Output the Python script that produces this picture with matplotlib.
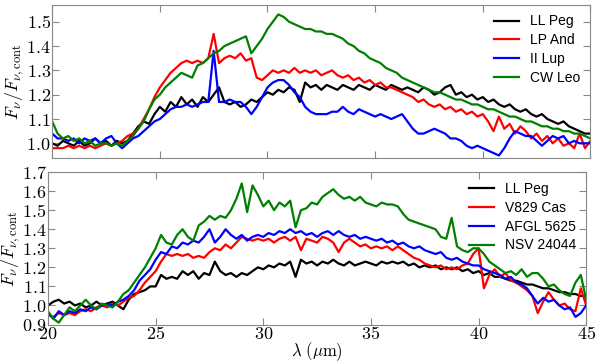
import numpy as np
import matplotlib
matplotlib.use('Agg')
import matplotlib.pyplot as plt
from matplotlib.ticker import FuncFormatter, MultipleLocator

plt.rcParams['mathtext.fontset'] = 'cm'
plt.rcParams['font.family'] = ['Liberation Sans', 'DejaVu Sans']

# wavelength grid (micron), 0.25 step
wavelength = np.arange(20.0, 45.001, 0.25)

# ---- top panel ----
top_names = ['LL Peg', 'LP And', 'II Lup', 'CW Leo']

ll_peg_top = [
    1.00, 0.99, 1.01, 1.00, 0.99, 1.01, 0.99, 1.00, 1.02, 1.00, 1.01, 0.99,
    1.01, 1.00, 1.01, 1.04, 1.07, 1.09, 1.08, 1.12, 1.15, 1.13, 1.17, 1.15,
    1.19, 1.16, 1.18, 1.15, 1.19, 1.17, 1.20, 1.23, 1.17, 1.16, 1.17, 1.15,
    1.16, 1.18, 1.17, 1.19, 1.21, 1.20, 1.22, 1.21, 1.23, 1.22, 1.17, 1.25,
    1.23, 1.24, 1.22, 1.24, 1.23, 1.22, 1.24, 1.23, 1.22, 1.24, 1.23, 1.22,
    1.24, 1.23, 1.22, 1.24, 1.23, 1.22, 1.23, 1.22, 1.21, 1.23, 1.22, 1.20,
    1.21, 1.23, 1.24, 1.20, 1.21, 1.19, 1.20, 1.18, 1.19, 1.17, 1.18, 1.16,
    1.15, 1.16, 1.14, 1.13, 1.14, 1.12, 1.11, 1.12, 1.10, 1.09, 1.08, 1.09,
    1.07, 1.06, 1.05, 1.04, 1.04]

lp_and = [
    0.98, 0.98, 0.98, 0.99, 0.98, 0.99, 0.98, 0.99, 0.98, 0.99, 1.00, 0.99,
    1.00, 1.01, 1.03, 1.04, 1.06, 1.10, 1.14, 1.19, 1.23, 1.26, 1.29, 1.31,
    1.33, 1.34, 1.33, 1.34, 1.33, 1.35, 1.45, 1.33, 1.35, 1.36, 1.35, 1.37,
    1.34, 1.35, 1.27, 1.26, 1.28, 1.30, 1.29, 1.30, 1.29, 1.31, 1.29, 1.30,
    1.29, 1.30, 1.28, 1.29, 1.30, 1.28, 1.27, 1.28, 1.26, 1.27, 1.25, 1.26,
    1.24, 1.25, 1.23, 1.23, 1.22, 1.21, 1.20, 1.19, 1.17, 1.18, 1.16, 1.15,
    1.16, 1.14, 1.15, 1.13, 1.14, 1.12, 1.13, 1.11, 1.12, 1.09, 1.05, 1.11,
    1.06, 1.08, 1.04, 1.07, 1.05, 1.02, 1.04, 1.01, 1.03, 1.00, 1.02, 0.99,
    1.00, 0.98, 1.04, 0.98, 1.01]

ii_lup = [
    1.04, 1.02, 1.02, 1.01, 1.02, 1.00, 1.02, 1.01, 1.02, 1.00, 1.02, 1.03,
    1.00, 0.98, 1.00, 1.02, 1.03, 1.05, 1.07, 1.09, 1.10, 1.12, 1.14, 1.15,
    1.15, 1.16, 1.15, 1.16, 1.17, 1.17, 1.38, 1.17, 1.17, 1.18, 1.17, 1.17,
    1.15, 1.12, 1.15, 1.19, 1.23, 1.25, 1.26, 1.26, 1.24, 1.21, 1.19, 1.15,
    1.13, 1.12, 1.12, 1.12, 1.13, 1.13, 1.15, 1.13, 1.12, 1.14, 1.13, 1.12,
    1.11, 1.12, 1.11, 1.10, 1.11, 1.12, 1.09, 1.06, 1.04, 1.04, 1.05, 1.06,
    1.05, 1.04, 1.02, 1.02, 1.01, 0.99, 0.98, 0.99, 0.98, 0.97, 0.96, 0.95,
    0.98, 1.02, 1.05, 1.04, 1.03, 1.03, 1.01, 0.99, 1.01, 1.03, 1.02, 1.03,
    1.00, 1.01, 1.00, 1.00, 1.00]

cw_leo = [
    1.09, 1.04, 1.02, 1.03, 1.01, 1.02, 1.00, 1.01, 0.99, 1.00, 1.00, 0.99,
    1.00, 0.99, 1.01, 1.03, 1.06, 1.09, 1.14, 1.18, 1.20, 1.23, 1.25, 1.27,
    1.29, 1.28, 1.27, 1.32, 1.33, 1.35, 1.37, 1.38, 1.40, 1.41, 1.42, 1.43,
    1.44, 1.37, 1.40, 1.43, 1.47, 1.50, 1.53, 1.52, 1.50, 1.49, 1.48, 1.47,
    1.47, 1.46, 1.46, 1.45, 1.45, 1.44, 1.43, 1.41, 1.40, 1.38, 1.37, 1.35,
    1.34, 1.33, 1.31, 1.30, 1.29, 1.27, 1.26, 1.25, 1.24, 1.23, 1.22, 1.21,
    1.21, 1.20, 1.19, 1.18, 1.18, 1.17, 1.16, 1.16, 1.15, 1.14, 1.14, 1.13,
    1.12, 1.11, 1.11, 1.10, 1.09, 1.09, 1.08, 1.07, 1.07, 1.06, 1.06, 1.05,
    1.05, 1.04, 1.04, 1.03, 1.02]

# ---- bottom panel ----
bottom_names = ['LL Peg', 'V829 Cas', 'AFGL 5625', 'NSV 24044']

ll_peg_bot = [
    1.00, 1.02, 1.03, 1.01, 1.02, 1.00, 1.01, 0.99, 1.00, 1.02, 1.00, 1.01,
    1.02, 1.00, 0.98, 1.03, 1.06, 1.07, 1.08, 1.10, 1.10, 1.16, 1.14, 1.15,
    1.14, 1.18, 1.16, 1.18, 1.14, 1.17, 1.16, 1.23, 1.18, 1.16, 1.17, 1.15,
    1.17, 1.16, 1.18, 1.20, 1.19, 1.21, 1.20, 1.22, 1.21, 1.23, 1.15, 1.24,
    1.22, 1.23, 1.21, 1.23, 1.22, 1.24, 1.22, 1.21, 1.23, 1.21, 1.22, 1.23,
    1.22, 1.21, 1.23, 1.22, 1.23, 1.22, 1.23, 1.21, 1.22, 1.20, 1.21, 1.20,
    1.21, 1.19, 1.20, 1.19, 1.20, 1.18, 1.19, 1.17, 1.18, 1.16, 1.17, 1.15,
    1.15, 1.14, 1.13, 1.13, 1.12, 1.11, 1.11, 1.10, 1.09, 1.09, 1.08, 1.07,
    1.07, 1.06, 1.06, 1.05, 1.05]

v829_cas = [
    0.95, 0.94, 0.96, 0.95, 0.96, 0.95, 0.97, 0.98, 0.97, 0.99, 1.00, 0.99,
    1.01, 1.00, 1.02, 1.04, 1.05, 1.08, 1.12, 1.15, 1.18, 1.23, 1.27, 1.26,
    1.27, 1.26, 1.27, 1.25, 1.26, 1.25, 1.28, 1.30, 1.29, 1.32, 1.30, 1.33,
    1.36, 1.35, 1.34, 1.35, 1.34, 1.35, 1.33, 1.35, 1.36, 1.34, 1.36, 1.29,
    1.35, 1.34, 1.33, 1.36, 1.35, 1.33, 1.28, 1.33, 1.35, 1.33, 1.31, 1.32,
    1.30, 1.31, 1.30, 1.31, 1.29, 1.31, 1.29, 1.27, 1.25, 1.24, 1.22, 1.21,
    1.20, 1.21, 1.19, 1.20, 1.19, 1.21, 1.22, 1.27, 1.30, 1.09, 1.16, 1.19,
    1.15, 1.17, 1.13, 1.12, 1.10, 1.08, 1.05, 0.96, 1.02, 1.07, 1.03, 1.00,
    1.01, 0.98, 0.97, 1.09, 1.00]

afgl_5625 = [
    0.96, 0.93, 0.97, 0.95, 0.97, 0.96, 0.98, 0.97, 0.99, 0.98, 1.00, 1.01,
    1.00, 1.02, 1.03, 1.05, 1.08, 1.13, 1.16, 1.19, 1.24, 1.28, 1.27, 1.31,
    1.30, 1.33, 1.32, 1.34, 1.33, 1.36, 1.40, 1.33, 1.36, 1.40, 1.37, 1.35,
    1.37, 1.34, 1.36, 1.37, 1.36, 1.38, 1.37, 1.39, 1.38, 1.40, 1.38, 1.39,
    1.37, 1.38, 1.36, 1.38, 1.39, 1.37, 1.39, 1.37, 1.36, 1.37, 1.35, 1.36,
    1.35, 1.34, 1.35, 1.33, 1.34, 1.32, 1.33, 1.31, 1.30, 1.31, 1.29, 1.28,
    1.27, 1.28, 1.25, 1.24, 1.25, 1.23, 1.22, 1.21, 1.21, 1.19, 1.18, 1.17,
    1.16, 1.14, 1.15, 1.12, 1.11, 1.09, 1.05, 1.01, 1.04, 1.02, 1.03, 1.00,
    0.98, 0.99, 0.94, 0.96, 1.00]

nsv_24044 = [
    0.97, 0.93, 0.91, 0.95, 0.99, 0.97, 1.00, 1.03, 1.00, 0.98, 1.01, 1.00,
    0.99, 1.02, 1.06, 1.08, 1.12, 1.16, 1.20, 1.25, 1.30, 1.37, 1.33, 1.32,
    1.37, 1.40, 1.36, 1.34, 1.42, 1.44, 1.47, 1.45, 1.47, 1.46, 1.50, 1.56,
    1.64, 1.49, 1.63, 1.58, 1.52, 1.55, 1.50, 1.54, 1.52, 1.55, 1.41, 1.50,
    1.51, 1.54, 1.53, 1.57, 1.59, 1.61, 1.58, 1.56, 1.57, 1.55, 1.57, 1.54,
    1.53, 1.52, 1.54, 1.53, 1.53, 1.52, 1.48, 1.45, 1.44, 1.43, 1.42, 1.41,
    1.40, 1.36, 1.35, 1.46, 1.31, 1.29, 1.28, 1.30, 1.30, 1.27, 1.23, 1.21,
    1.19, 1.17, 1.18, 1.16, 1.19, 1.15, 1.17, 1.17, 1.14, 1.10, 1.11, 1.08,
    1.06, 1.05, 1.12, 1.16, 1.03]

line_colors = ['black', 'red', 'blue', 'green']

fig = plt.figure(figsize=(6.0, 3.63), dpi=100)
ax1 = fig.add_axes([0.087, 0.565, 0.897, 0.422])
ax2 = fig.add_axes([0.080, 0.106, 0.897, 0.420])

tick_fmt = FuncFormatter(lambda v, pos: r'$%.1f$' % v)
xtick_fmt = FuncFormatter(lambda v, pos: r'$%d$' % v)

# top panel
for series, name, c in zip([ll_peg_top, lp_and, ii_lup, cw_leo], top_names, line_colors):
    ax1.plot(wavelength, series, color=c, lw=1.6, label=name)
ax1.set_ylim(0.94, 1.57)
ax1.yaxis.set_major_locator(MultipleLocator(0.1))
ax1.set_xticklabels([])

# bottom panel
for series, name, c in zip([ll_peg_bot, v829_cas, afgl_5625, nsv_24044], bottom_names, line_colors):
    ax2.plot(wavelength, series, color=c, lw=1.6, label=name)
ax2.set_ylim(0.9, 1.7)
ax2.yaxis.set_major_locator(MultipleLocator(0.1))
ax2.xaxis.set_major_formatter(xtick_fmt)
ax2.set_xlabel(r'$\lambda\ (\mu{\rm m})$', fontsize=12, labelpad=-2)

for ax in (ax1, ax2):
    ax.set_xlim(20, 45)
    ax.xaxis.set_major_locator(MultipleLocator(5))
    ax.yaxis.set_major_formatter(tick_fmt)
    ax.tick_params(direction='in', top=True, right=True, length=5,
                   color='#888888', labelsize=13, pad=1)
    for s in ax.spines.values():
        s.set_color('#888888')
    ax.set_ylabel(r'$F_\nu/F_{\nu,\rm cont}$', fontsize=13, labelpad=0)
    ax.legend(loc='upper right', frameon=False, fontsize=10,
              handlelength=1.8, labelspacing=0.35, borderaxespad=0.3)

fig.savefig('out.png', dpi=100)
